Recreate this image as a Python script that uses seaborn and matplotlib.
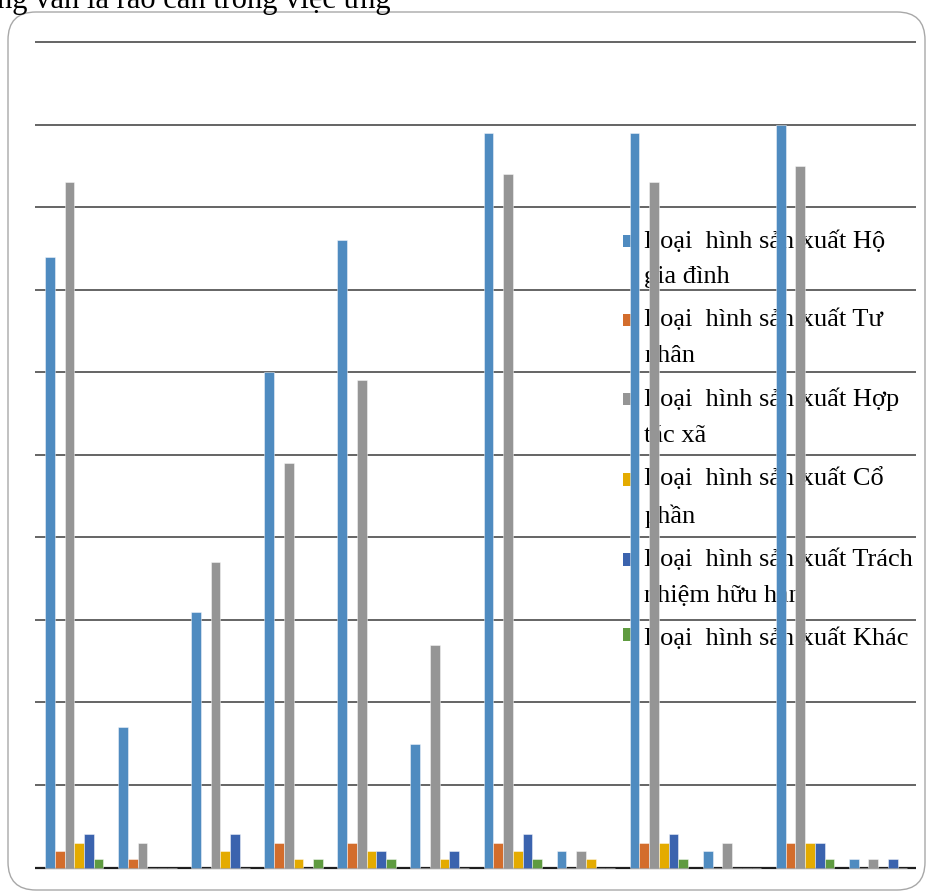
import numpy as np
import pandas as pd
import matplotlib
matplotlib.use("Agg")
import matplotlib.pyplot as plt
import seaborn as sns
from matplotlib.patches import Patch, Rectangle, FancyBboxPatch
from matplotlib.legend_handler import HandlerPatch
from matplotlib.font_manager import FontProperties

# ---------------- data ----------------
groups = [str(i) for i in range(1, 13)]
series = [
    "Loại  hình sản xuất Hộ gia đình",
    "Loại  hình sản xuất Tư nhân",
    "Loại  hình sản xuất Hợp tác xã",
    "Loại  hình sản xuất Cổ phần",
    "Loại  hình sản xuất Trách nhiệm hữu hạn",
    "Loại  hình sản xuất Khác",
]
legend_labels = [
    "Loại  hình sản xuất Hộ\ngia đình",
    "Loại  hình sản xuất Tư\nnhân",
    "Loại  hình sản xuất Hợp\ntác xã",
    "Loại  hình sản xuất Cổ\nphần",
    "Loại  hình sản xuất Trách\nnhiệm hữu hạn",
    "Loại  hình sản xuất Khác",
]
ho_gia_dinh = [74, 17, 31, 60, 76, 15, 89, 2, 89, 2, 90, 1]
tu_nhan = [2, 1, 0, 3, 3, 0, 3, 0, 3, 0, 3, 0]
hop_tac_xa = [83, 3, 37, 49, 59, 27, 84, 2, 83, 3, 85, 1]
co_phan = [3, 0, 2, 1, 2, 1, 2, 1, 3, 0, 3, 0]
tnhh = [4, 0, 4, 0, 2, 2, 4, 0, 4, 0, 3, 1]
khac = [1, 0, 0, 1, 1, 0, 1, 0, 1, 0, 1, 0]
top_text = "ng vấn là rào cản trong việc ứng"

colors = ["#4F8BC0", "#D36D2C", "#959595", "#E4AB00", "#3B63AE", "#5F9B40"]

values = [ho_gia_dinh, tu_nhan, hop_tac_xa, co_phan, tnhh, khac]
rows = []
for s, vals in zip(series, values):
    for g, v in zip(groups, vals):
        rows.append({"group": g, "series": s, "value": v})
df = pd.DataFrame(rows)

# ---------------- style ----------------
sns.set_theme(style="white")
plt.rcParams["font.family"] = ["Liberation Serif", "DejaVu Serif"]

W, H, DPI = 929, 892, 100
fig = plt.figure(figsize=(W / DPI, H / DPI), dpi=DPI)

base_px, top_px = 867.5, 42.0
unit_px = (base_px - top_px) / 100.0
m = 3.0  # pixel margin so edge lines aren't clipped
ax = fig.add_axes([35 / W, 1 - (base_px + m) / H, 881 / W, (base_px - top_px + 2 * m) / H])

sns.barplot(data=df, x="group", y="value", hue="series", order=groups,
            hue_order=series, palette=colors, width=0.8, saturation=1,
            ax=ax, legend=False, linewidth=0.7, edgecolor=(1, 1, 1, 0.45))

ax.set_xlim(-0.537, 11.517)
ax.set_ylim(-m / unit_px, 100 + m / unit_px)
ax.set_yticks(np.arange(10, 101, 10))
ax.yaxis.grid(True, color="#4a4a4a", linewidth=1.2)
ax.set_axisbelow(True)
ax.axhline(0, color="#1e1e1e", linewidth=1.6, zorder=0.6)
ax.tick_params(left=False, bottom=False, labelleft=False, labelbottom=False)
for sp in ax.spines.values():
    sp.set_visible(False)
ax.set_xlabel("")
ax.set_ylabel("")

# ---------------- legend ----------------
fs = 19
linespacing = 1.8
renderer = fig.canvas.get_renderer()
fp = FontProperties(family=["Liberation Serif", "DejaVu Serif"], size=fs)
_, lp_h, lp_d = renderer.get_text_width_height_descent("lp", fp, ismath=False)
pitch_pt = (lp_h - lp_d) * linespacing * 72.0 / DPI
corr_pt = 14 * 72.0 / DPI


def make_handler(nlines):
    def f(legend, orig_handle, xdescent, ydescent, width, height, fontsize):
        off = (nlines - 1) * (pitch_pt - corr_pt)
        return Rectangle((-xdescent, 0.15 * fontsize + off), width, width)
    return HandlerPatch(patch_func=f)


handles = [Patch(facecolor=c, edgecolor="none") for c in colors]
hmap = {h: make_handler(lbl.count("\n") + 1) for h, lbl in zip(handles, legend_labels)}
leg = ax.legend(handles, legend_labels, handler_map=hmap, loc="upper left",
                bbox_to_anchor=((623 - 35) / 881, (base_px - 232) / (base_px - top_px)),
                frameon=False, borderpad=0, borderaxespad=0,
                handlelength=0.47, handleheight=0.47, handletextpad=0.33,
                labelspacing=0.775, prop=fp)
for t in leg.get_texts():
    t.set_linespacing(linespacing)
    t.set_color("black")
leg.set_zorder(0.8)

# ---------------- surrounding page elements ----------------
frame = FancyBboxPatch((8 / DPI, (H - 890) / DPI), (925 - 8) / DPI, (890 - 12) / DPI,
                       boxstyle="round,pad=0,rounding_size=0.28",
                       transform=fig.dpi_scale_trans, fill=False,
                       edgecolor="#a8a8a8", linewidth=1.0)
fig.add_artist(frame)
fig.text(-3 / W, 1 - 8 / H, top_text, fontsize=22, va="baseline", ha="left",
         family=["Liberation Serif", "DejaVu Serif"], color="black")

fig.savefig("out.png", dpi=DPI)
